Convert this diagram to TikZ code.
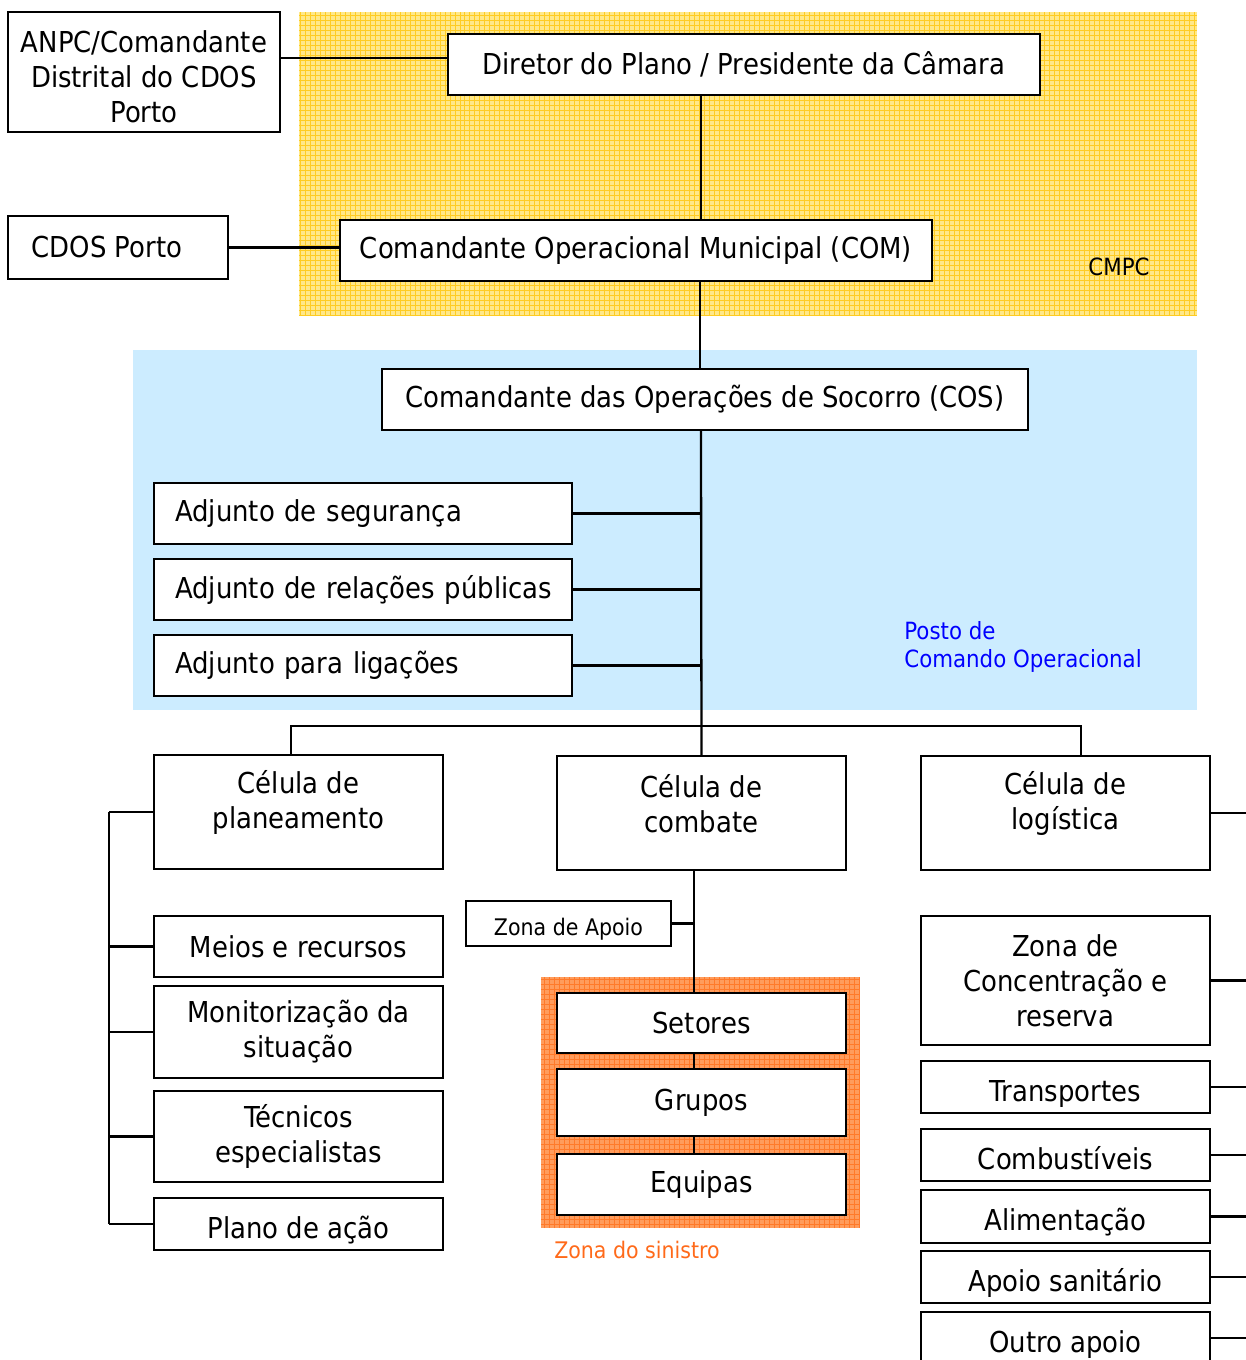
\documentclass[tikz,border=0pt]{standalone}
\usepackage{fontspec}
\setmainfont{DejaVu Sans}[FakeStretch=0.9]
\usetikzlibrary{positioning}
\definecolor{cmpcyellow}{HTML}{FFE889}
\definecolor{cmpcgrid}{HTML}{FFCC22}
\definecolor{pcoblue}{HTML}{CCECFF}
\definecolor{zsorange}{HTML}{FF9C5C}
\definecolor{zsgrid}{HTML}{FF7A2A}
\definecolor{zstext}{HTML}{FF6A1A}
\newcommand\boxfont{\fontsize{16.4}{20}\selectfont}
\newcommand\notefont{\fontsize{13.5}{16.4}\selectfont}
\tikzset{
	box/.style={draw, line width=1.2pt, fill=white, align=center, inner sep=0pt, font=\boxfont},
	adjunto/.style={box, minimum width=8.36cm, minimum height=1.22cm, text width=7.52cm, align=left},
	celula/.style={box, minimum width=5.78cm, minimum height=2.28cm},
	celtext/.style={align=center, font=\boxfont, yshift=0.19cm},
	wbox/.style={box, minimum width=5.78cm},
	low/.style={text height=16pt, text depth=0pt},
	note/.style={inner sep=0pt, font=\notefont},
	link/.style={draw, line width=1.3pt}
}

\begin{document}
\begin{tikzpicture}[x=0.02cm, y=-0.02cm]
	\clip (0,0) rectangle (1246,1360);
	% zonas
	\fill[cmpcyellow] (299,12) rectangle (1197,316);
	\draw[cmpcgrid, line width=0.5pt, step=0.1cm] (299,316) grid (1197,12);
	\fill[pcoblue] (133,350) rectangle (1197,710);
	\fill[zsorange] (541,977) rectangle (860,1228);
	\draw[zsgrid, line width=0.6pt, step=0.1cm] (541,1228) grid (860,977);

	% CMPC
	\node[box, minimum width=5.44cm, minimum height=2.4cm,
		label={[align=center, font=\boxfont, yshift=-0.1cm]center:{ANPC/Comandante\\Distrital do CDOS\\Porto}}] (anpc) at (144,72) {};
	\node[box, minimum width=11.84cm, minimum height=1.22cm] (diretor) at (744,64.5) {Diretor do Plano / Presidente da Câmara};
	\node[box, minimum width=4.4cm, minimum height=1.26cm,
		label={[font=\boxfont, xshift=-0.22cm]center:CDOS Porto}] (cdos) at (118,247.5) {};
	\node[box, minimum width=11.84cm, minimum height=1.22cm] (com) at (636,250.5) {Comandante Operacional Municipal (COM)};
	\node[note] (cmpc) at (1119,267) {CMPC};

	% posto de comando
	\node[box, minimum width=12.92cm, minimum height=1.22cm] (cos) at (705,399.5) {Comandante das Operações de Socorro (COS)};
	\node[adjunto] (seguranca) at (363,513.5) {\mbox{Adjunto de segurança}};
	\node[adjunto] (relacoes) at (363,589.5) {\mbox{Adjunto de relações públicas}};
	\node[adjunto] (ligacoes) at (363,665.5) {\mbox{Adjunto para ligações}};
	\node[note, text=blue, align=left, anchor=west] (pco) at (904,647) {Posto de\\Comando Operacional};

	% celulas
	\node[celula, label={[celtext]center:{Célula de\\planeamento}}] (planeamento) at (298.5,812) {};
	\node[celula, label={[celtext]center:{Célula de\\combate}}] (combate) at (701.5,813) {};
	\node[celula, label={[celtext]center:{Célula de\\logística}}] (logistica) at (1065.5,813) {};

	\node[wbox, minimum height=1.22cm] (meios) at (298.5,946.5) {Meios e recursos};
	\node[wbox, minimum height=1.84cm] (monit) at (298.5,1032) {Monitorização da\\situação};
	\node[wbox, minimum height=1.82cm] (tecnicos) at (298.5,1136.5) {Técnicos\\especialistas};
	\node[wbox, low, minimum height=1.04cm] (plano) at (298.5,1224) {Plano de ação};

	\node[box, minimum width=4.1cm, minimum height=0.9cm,
		path picture={\node[anchor=base, font=\fontsize{13}{15}\selectfont] at ([yshift=0.22cm]path picture bounding box.south) {Zona de Apoio};}] (apoio) at (568.5,923.5) {};
	\node[wbox, minimum height=1.2cm] (setores) at (701.5,1023) {Setores};
	\node[wbox, minimum height=1.34cm] (grupos) at (701.5,1102.5) {Grupos};
	\node[wbox, minimum height=1.22cm] (equipas) at (701.5,1184.5) {Equipas};
	\node[note, text=zstext, font=\fontsize{13}{15}\selectfont] (sinistro) at (637,1250) {Zona do sinistro};

	\node[wbox, minimum height=2.58cm] (concentracao) at (1065.5,980.5) {Zona de\\Concentração e\\reserva};
	\node[wbox, low, minimum height=1.04cm] (transportes) at (1065.5,1087) {Transportes};
	\node[wbox, low, minimum height=1.04cm] (combustiveis) at (1065.5,1155) {Combustíveis};
	\node[wbox, low, minimum height=1.06cm] (alimentacao) at (1065.5,1216.5) {Alimentação};
	\node[wbox, low, minimum height=1.04cm] (sanitario) at (1065.5,1277) {Apoio sanitário};
	\node[wbox, low, minimum height=1.04cm] (outro) at (1065.5,1338) {Outro apoio};

	% ligacoes
	\coordinate (bus) at (701,726);
	\coordinate (redge) at (1246,0);
	\path[link] (anpc.east |- 0,58) -- (diretor.west |- 0,58);
	\path[link] (701,0 |- diretor.south) -- (701,0 |- com.north);
	\path[link] (cdos.east) -- (com.west |- cdos.east);
	\path[link] (700,0 |- com.south) -- (700,0 |- cos.north);
	\path[link] (701,0 |- cos.south) -- (combate.north);
	\foreach \n in {seguranca, relacoes, ligacoes}
		\path[link] (\n.east) -- (701,0 |- \n.east);
	\path[link] (291,0 |- planeamento.north) |- (bus) -| (1081,0 |- logistica.north);
	\path[link] (109,0 |- planeamento.west) -- (109,0 |- plano.west);
	\foreach \n in {planeamento, meios, monit, tecnicos, plano}
		\path[link] (\n.west) -- (109,0 |- \n.west);
	\path[link] (694,0 |- combate.south) -- (694,0 |- setores.north);
	\path[link] (apoio.east) -- (694,0 |- apoio.east);
	\path[link] (694,0 |- setores.south) -- (694,0 |- grupos.north);
	\path[link] (694,0 |- grupos.south) -- (694,0 |- equipas.north);
	\foreach \n in {logistica, concentracao, transportes, combustiveis, alimentacao, sanitario, outro}
		\path[link] (\n.east) -- (\n.east -| redge);
\end{tikzpicture}
\end{document}
